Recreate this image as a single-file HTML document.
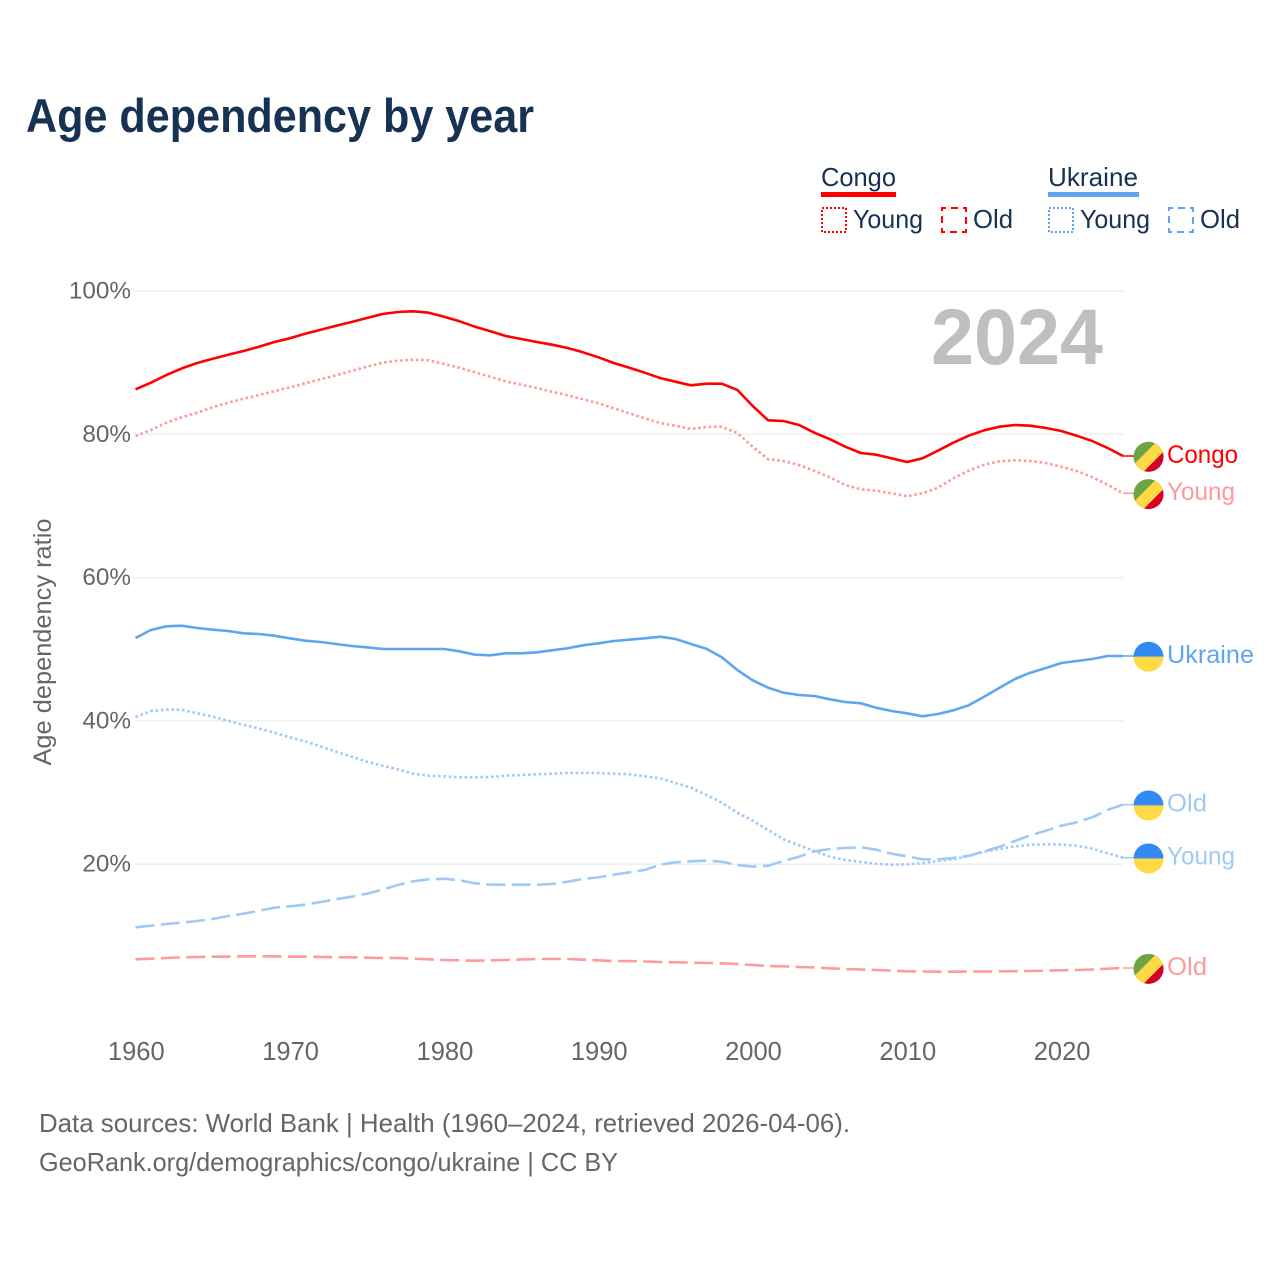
<!DOCTYPE html>
<html lang="en">
<head>
<meta charset="utf-8">
<title>Age dependency by year</title>
<style>
  html, body { margin: 0; padding: 0; background: #fff; }
  svg { display: block; font-family: "Liberation Sans", sans-serif; }
</style>
</head>
<body>
<svg id="chart" xmlns="http://www.w3.org/2000/svg" width="1280" height="1280" viewBox="0 0 1280 1280">
  <rect x="0" y="0" width="1280" height="1280" fill="#ffffff"/>
  <text x="26" y="132" font-size="47" font-weight="700" fill="#173253" textLength="508" lengthAdjust="spacingAndGlyphs">Age dependency by year</text>

  <g font-size="26" fill="#173253">
    <text x="821" y="186" textLength="75" lengthAdjust="spacingAndGlyphs">Congo</text>
    <rect x="821" y="192" width="75" height="5" fill="#ff0000"/>
    <rect x="822" y="208" width="24" height="24" fill="none" stroke="#ff0000" stroke-width="2" stroke-dasharray="2 2"/>
    <text x="853" y="228" textLength="70" lengthAdjust="spacingAndGlyphs">Young</text>
    <rect x="942" y="208" width="24" height="24" fill="none" stroke="#ff0000" stroke-width="2" stroke-dasharray="7 5" stroke-dashoffset="3"/>
    <text x="973" y="228" textLength="40" lengthAdjust="spacingAndGlyphs">Old</text>

    <text x="1048" y="186" textLength="90" lengthAdjust="spacingAndGlyphs">Ukraine</text>
    <rect x="1048" y="192" width="91" height="5" fill="#60a5f0"/>
    <rect x="1049" y="208" width="24" height="24" fill="none" stroke="#60a5f0" stroke-width="2" stroke-dasharray="2 2"/>
    <text x="1080" y="228" textLength="70" lengthAdjust="spacingAndGlyphs">Young</text>
    <rect x="1169" y="208" width="24" height="24" fill="none" stroke="#60a5f0" stroke-width="2" stroke-dasharray="7 5" stroke-dashoffset="3"/>
    <text x="1200" y="228" textLength="40" lengthAdjust="spacingAndGlyphs">Old</text>
  </g>

  <g id="grid"></g>
  <g id="yticks" font-size="24.3" fill="#666666" text-anchor="end"></g>
  <g id="xticks" font-size="25.5" fill="#666666" text-anchor="middle"></g>
  <text transform="translate(51 642) rotate(-90)" font-size="25" fill="#666666" text-anchor="middle" textLength="247" lengthAdjust="spacingAndGlyphs">Age dependency ratio</text>

  <text x="1103" y="364" font-size="79" font-weight="700" fill="#bfbfbf" text-anchor="end" textLength="172" lengthAdjust="spacingAndGlyphs">2024</text>

  <g id="series"></g>
  <g id="endmarks"></g>

  <text x="39" y="1132" font-size="26" fill="#666666" textLength="811" lengthAdjust="spacingAndGlyphs">Data sources: World Bank | Health (1960–2024, retrieved 2026-04-06).</text>
  <text x="39" y="1171" font-size="26" fill="#666666" textLength="579" lengthAdjust="spacingAndGlyphs">GeoRank.org/demographics/congo/ukraine | CC BY</text>

  <defs>
    <clipPath id="flag-clip"><circle cx="0" cy="0" r="15"/></clipPath>
  </defs>
</svg>

<script>
const firstYear = 1960;
const xTickYears = [1960, 1970, 1980, 1990, 2000, 2010, 2020];
const yTickValues = [20, 40, 60, 80, 100];

const congoTotal = [86.28,87.20,88.28,89.20,89.95,90.55,91.10,91.63,92.23,92.88,93.40,94.04,94.60,95.16,95.68,96.23,96.79,97.07,97.17,96.97,96.41,95.77,95.02,94.38,93.72,93.30,92.88,92.51,92.05,91.45,90.75,89.95,89.30,88.60,87.86,87.34,86.84,87.06,87.06,86.19,83.95,81.96,81.86,81.30,80.23,79.31,78.27,77.39,77.15,76.65,76.14,76.65,77.71,78.83,79.81,80.56,81.06,81.30,81.20,80.88,80.46,79.81,79.07,78.09,76.97];
const congoYoung = [79.76,80.60,81.62,82.38,83.02,83.77,84.41,84.97,85.49,86.00,86.56,87.12,87.68,88.24,88.84,89.44,89.99,90.27,90.41,90.33,89.81,89.30,88.66,88.04,87.40,86.92,86.46,85.95,85.44,84.89,84.33,83.63,82.93,82.24,81.58,81.20,80.74,81.02,81.06,80.18,78.27,76.51,76.27,75.72,74.88,74.00,72.93,72.33,72.13,71.77,71.35,71.77,72.55,73.86,74.92,75.76,76.23,76.37,76.27,76.00,75.48,74.88,74.04,72.97,71.77];
const congoOld = [6.73,6.81,6.91,7.01,7.05,7.09,7.09,7.15,7.15,7.15,7.09,7.09,7.05,7.01,7.01,6.95,6.91,6.91,6.81,6.73,6.63,6.59,6.53,6.59,6.63,6.70,6.77,6.77,6.77,6.67,6.59,6.49,6.49,6.42,6.35,6.31,6.25,6.21,6.17,6.07,5.93,5.79,5.75,5.65,5.58,5.47,5.37,5.30,5.23,5.14,5.05,5.02,5.00,5.00,5.02,5.02,5.05,5.07,5.09,5.14,5.19,5.23,5.30,5.42,5.51];
const ukraineTotal = [51.57,52.69,53.20,53.29,52.97,52.73,52.55,52.23,52.13,51.89,51.53,51.19,51.01,50.73,50.45,50.27,50.04,50.04,50.04,50.04,50.04,49.71,49.24,49.16,49.44,49.44,49.58,49.85,50.13,50.55,50.83,51.15,51.33,51.53,51.75,51.43,50.73,50.08,48.88,47.10,45.67,44.63,43.94,43.62,43.48,43.02,42.64,42.46,41.84,41.38,41.06,40.64,40.96,41.48,42.18,43.38,44.63,45.85,46.73,47.38,48.08,48.36,48.64,49.06,49.06];
const ukraineYoung = [40.55,41.38,41.56,41.56,41.06,40.59,40.03,39.45,38.95,38.35,37.71,37.14,36.44,35.70,35.00,34.31,33.75,33.25,32.63,32.35,32.27,32.13,32.13,32.17,32.35,32.45,32.55,32.63,32.73,32.73,32.73,32.63,32.55,32.27,31.99,31.33,30.68,29.66,28.58,27.20,26.07,24.77,23.48,22.64,21.84,21.05,20.59,20.31,20.07,19.93,19.99,20.13,20.45,20.68,21.14,21.75,22.12,22.50,22.72,22.78,22.72,22.58,22.16,21.52,20.91];
const ukraineOld = [11.19,11.42,11.65,11.84,12.07,12.35,12.77,13.09,13.51,13.93,14.12,14.35,14.72,15.10,15.46,15.88,16.44,17.10,17.61,17.89,17.98,17.75,17.33,17.14,17.14,17.14,17.14,17.24,17.56,17.93,18.17,18.53,18.87,19.19,19.93,20.27,20.41,20.49,20.35,19.89,19.65,19.79,20.45,21.05,21.80,22.12,22.26,22.36,22.02,21.47,21.10,20.68,20.68,20.87,21.19,21.80,22.44,23.24,24.03,24.68,25.37,25.85,26.55,27.56,28.31];

const SVG_NS = 'http://www.w3.org/2000/svg';
const xScale = year => 135.5 + (year - firstYear) * 15.43;
const yScale = value => 1007.5 - value * 7.165;
const PLOT_RIGHT = xScale(2024);
const FLAG_X = 1148.5;
const LABEL_X = 1167;

function make(tag, attrs) {
  const node = document.createElementNS(SVG_NS, tag);
  for (const key in attrs) node.setAttribute(key, attrs[key]);
  return node;
}

const gridLayer = document.getElementById('grid');
const yTickLayer = document.getElementById('yticks');
yTickValues.forEach(value => {
  const line = make('line', { x1: 135, x2: PLOT_RIGHT, y1: yScale(value), y2: yScale(value), stroke: '#eeeeee', 'stroke-width': 1.5 });
  
  
  gridLayer.appendChild(line);
  const label = make('text', { x: 131, y: yScale(value) + 7.5 });
  label.textContent = value + '%';
  
  
  yTickLayer.appendChild(label);
});

const xTickLayer = document.getElementById('xticks');
xTickYears.forEach(year => {
  const label = make('text', { x: xScale(year) + 0.8, y: 1060 });
  label.textContent = String(year);
  
  
  xTickLayer.appendChild(label);
});

const seriesLayer = document.getElementById('series');
const endLayer = document.getElementById('endmarks');

function drawFlag(country, cy) {
  const flag = make('g', { transform: 'translate(' + FLAG_X + ' ' + (cy + 0.8) + ')' });
  
  
  const inner = make('g', { 'clip-path': 'url(#flag-clip)' });
  if (country === 'congo') {
    inner.appendChild(make('rect', { x: -16, y: -16, width: 32, height: 32, fill: '#6da544' }));
    inner.appendChild(make('polygon', { points: '-22,15 15,-22 32,-22 -22,32', fill: '#ffda44' }));
    inner.appendChild(make('polygon', { points: '-12,22 22,-12 22,22', fill: '#d80027' }));
  } else {
    inner.appendChild(make('rect', { x: -16, y: -16, width: 32, height: 16, fill: '#338af3' }));
    inner.appendChild(make('rect', { x: -16, y: 0, width: 32, height: 16, fill: '#ffda44' }));
  }
  flag.appendChild(inner);
  endLayer.appendChild(flag);
}

function drawSeries(values, color, dash, country, labelText, labelWidth, name) {
  const points = values.map((value, i) => xScale(firstYear + i).toFixed(1) + ',' + yScale(value).toFixed(1)).join(' ');
  const line = make('polyline', { points: points, fill: 'none', stroke: color, 'stroke-width': 2.6, 'stroke-linejoin': 'round' });
  if (dash) line.setAttribute('stroke-dasharray', dash);
  
  
  seriesLayer.appendChild(line);

  const endY = yScale(values[values.length - 1]);
  const leader = make('line', { x1: PLOT_RIGHT, x2: FLAG_X - 12, y1: endY, y2: endY, stroke: color, 'stroke-width': 1.5 });
  
  
  seriesLayer.appendChild(leader);

  drawFlag(country, endY);

  const label = make('text', { x: LABEL_X, y: endY + 6.8, 'font-size': 25, fill: color, textLength: labelWidth, lengthAdjust: 'spacingAndGlyphs' });
  label.textContent = labelText;
  
  
  endLayer.appendChild(label);
}

const DOTTED = '2.6 2.7';
const DASHED = '19 6.4';
drawSeries(congoYoung, '#ff9a9a', DOTTED, 'congo', 'Young', 68, 'congo-young');
drawSeries(congoOld, '#ff9a9a', DASHED, 'congo', 'Old', 40, 'congo-old');
drawSeries(ukraineYoung, '#a0c9f5', DOTTED, 'ukraine', 'Young', 68, 'ukraine-young');
drawSeries(ukraineOld, '#a0c9f5', DASHED, 'ukraine', 'Old', 40, 'ukraine-old');
drawSeries(ukraineTotal, '#60a5f0', '', 'ukraine', 'Ukraine', 87, 'ukraine-total');
drawSeries(congoTotal, '#ff0000', '', 'congo', 'Congo', 71, 'congo-total');
</script>
</body>
</html>
